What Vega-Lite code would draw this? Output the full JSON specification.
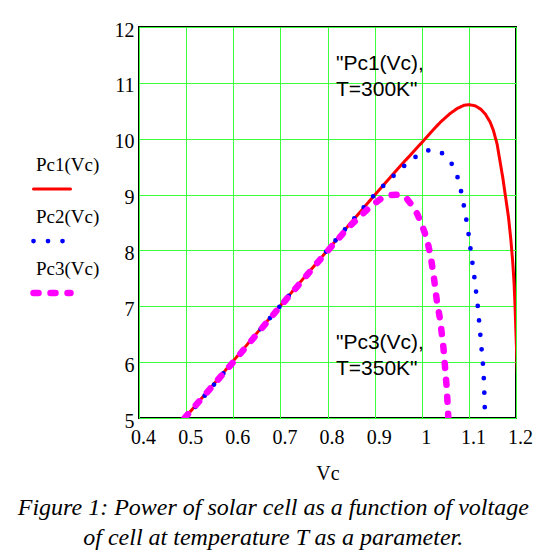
{
  "$schema": "https://vega.github.io/schema/vega-lite/v6.json",
  "background": "white",
  "padding": {"left": 5, "top": 19, "right": 0, "bottom": 0},
  "spacing": 8,
  "title": {
    "text": ["Figure 1: Power of solar cell as a function of voltage", "of cell at temperature T as a parameter."],
    "orient": "bottom",
    "anchor": "middle",
    "font": "Liberation Serif",
    "fontStyle": "italic",
    "fontWeight": "normal",
    "fontSize": 24,
    "lineHeight": 30,
    "color": "black",
    "offset": 12,
    "dx": 4
  },
  "datasets": {
    "curves": [
      {"series": "Pc1(Vc)", "Vc": 0.497, "Pc": 5.0},
      {"series": "Pc1(Vc)", "Vc": 0.55, "Pc": 5.52},
      {"series": "Pc1(Vc)", "Vc": 0.6, "Pc": 6.02},
      {"series": "Pc1(Vc)", "Vc": 0.65, "Pc": 6.52},
      {"series": "Pc1(Vc)", "Vc": 0.7, "Pc": 7.01},
      {"series": "Pc1(Vc)", "Vc": 0.75, "Pc": 7.51},
      {"series": "Pc1(Vc)", "Vc": 0.8, "Pc": 8.0},
      {"series": "Pc1(Vc)", "Vc": 0.85, "Pc": 8.5},
      {"series": "Pc1(Vc)", "Vc": 0.9, "Pc": 8.99},
      {"series": "Pc1(Vc)", "Vc": 0.95, "Pc": 9.47},
      {"series": "Pc1(Vc)", "Vc": 1.0, "Pc": 9.93},
      {"series": "Pc1(Vc)", "Vc": 1.02, "Pc": 10.12},
      {"series": "Pc1(Vc)", "Vc": 1.04, "Pc": 10.3},
      {"series": "Pc1(Vc)", "Vc": 1.06, "Pc": 10.45},
      {"series": "Pc1(Vc)", "Vc": 1.075, "Pc": 10.54},
      {"series": "Pc1(Vc)", "Vc": 1.09, "Pc": 10.6},
      {"series": "Pc1(Vc)", "Vc": 1.1, "Pc": 10.61},
      {"series": "Pc1(Vc)", "Vc": 1.113, "Pc": 10.59},
      {"series": "Pc1(Vc)", "Vc": 1.125, "Pc": 10.53},
      {"series": "Pc1(Vc)", "Vc": 1.135, "Pc": 10.44},
      {"series": "Pc1(Vc)", "Vc": 1.145, "Pc": 10.3},
      {"series": "Pc1(Vc)", "Vc": 1.152, "Pc": 10.15},
      {"series": "Pc1(Vc)", "Vc": 1.16, "Pc": 9.9},
      {"series": "Pc1(Vc)", "Vc": 1.166, "Pc": 9.6},
      {"series": "Pc1(Vc)", "Vc": 1.172, "Pc": 9.3},
      {"series": "Pc1(Vc)", "Vc": 1.178, "Pc": 8.95},
      {"series": "Pc1(Vc)", "Vc": 1.184, "Pc": 8.6},
      {"series": "Pc1(Vc)", "Vc": 1.189, "Pc": 8.2},
      {"series": "Pc1(Vc)", "Vc": 1.193, "Pc": 7.8},
      {"series": "Pc1(Vc)", "Vc": 1.196, "Pc": 7.4},
      {"series": "Pc1(Vc)", "Vc": 1.198, "Pc": 7.0},
      {"series": "Pc1(Vc)", "Vc": 1.2, "Pc": 6.5},
      {"series": "Pc1(Vc)", "Vc": 1.203, "Pc": 5.8},
      {"series": "Pc2(Vc)", "Vc": 0.5, "Pc": 5.0},
      {"series": "Pc2(Vc)", "Vc": 0.6, "Pc": 6.01},
      {"series": "Pc2(Vc)", "Vc": 0.7, "Pc": 7.01},
      {"series": "Pc2(Vc)", "Vc": 0.8, "Pc": 8.01},
      {"series": "Pc2(Vc)", "Vc": 0.9, "Pc": 9.0},
      {"series": "Pc2(Vc)", "Vc": 0.92, "Pc": 9.17},
      {"series": "Pc2(Vc)", "Vc": 0.935, "Pc": 9.29},
      {"series": "Pc2(Vc)", "Vc": 0.951, "Pc": 9.43},
      {"series": "Pc2(Vc)", "Vc": 0.971, "Pc": 9.57},
      {"series": "Pc2(Vc)", "Vc": 0.992, "Pc": 9.71},
      {"series": "Pc2(Vc)", "Vc": 1.005, "Pc": 9.77},
      {"series": "Pc2(Vc)", "Vc": 1.018, "Pc": 9.8},
      {"series": "Pc2(Vc)", "Vc": 1.03, "Pc": 9.79},
      {"series": "Pc2(Vc)", "Vc": 1.04, "Pc": 9.76},
      {"series": "Pc2(Vc)", "Vc": 1.052, "Pc": 9.68},
      {"series": "Pc2(Vc)", "Vc": 1.063, "Pc": 9.56},
      {"series": "Pc2(Vc)", "Vc": 1.076, "Pc": 9.31},
      {"series": "Pc2(Vc)", "Vc": 1.084, "Pc": 9.04},
      {"series": "Pc2(Vc)", "Vc": 1.09, "Pc": 8.77},
      {"series": "Pc2(Vc)", "Vc": 1.096, "Pc": 8.48},
      {"series": "Pc2(Vc)", "Vc": 1.101, "Pc": 8.2},
      {"series": "Pc2(Vc)", "Vc": 1.105, "Pc": 7.92},
      {"series": "Pc2(Vc)", "Vc": 1.11, "Pc": 7.64},
      {"series": "Pc2(Vc)", "Vc": 1.114, "Pc": 7.35},
      {"series": "Pc2(Vc)", "Vc": 1.118, "Pc": 7.08},
      {"series": "Pc2(Vc)", "Vc": 1.121, "Pc": 6.8},
      {"series": "Pc2(Vc)", "Vc": 1.124, "Pc": 6.52},
      {"series": "Pc2(Vc)", "Vc": 1.127, "Pc": 6.23},
      {"series": "Pc2(Vc)", "Vc": 1.13, "Pc": 5.95},
      {"series": "Pc2(Vc)", "Vc": 1.132, "Pc": 5.66},
      {"series": "Pc2(Vc)", "Vc": 1.133, "Pc": 5.39},
      {"series": "Pc2(Vc)", "Vc": 1.134, "Pc": 5.1},
      {"series": "Pc2(Vc)", "Vc": 1.135, "Pc": 4.9},
      {"series": "Pc3(Vc)", "Vc": 0.497, "Pc": 5.0},
      {"series": "Pc3(Vc)", "Vc": 0.6, "Pc": 6.0},
      {"series": "Pc3(Vc)", "Vc": 0.7, "Pc": 7.0},
      {"series": "Pc3(Vc)", "Vc": 0.8, "Pc": 7.99},
      {"series": "Pc3(Vc)", "Vc": 0.844, "Pc": 8.41},
      {"series": "Pc3(Vc)", "Vc": 0.868, "Pc": 8.6},
      {"series": "Pc3(Vc)", "Vc": 0.893, "Pc": 8.8},
      {"series": "Pc3(Vc)", "Vc": 0.914, "Pc": 8.93},
      {"series": "Pc3(Vc)", "Vc": 0.935, "Pc": 8.99},
      {"series": "Pc3(Vc)", "Vc": 0.953, "Pc": 9.0},
      {"series": "Pc3(Vc)", "Vc": 0.968, "Pc": 8.93},
      {"series": "Pc3(Vc)", "Vc": 0.981, "Pc": 8.79},
      {"series": "Pc3(Vc)", "Vc": 0.99, "Pc": 8.66},
      {"series": "Pc3(Vc)", "Vc": 0.999, "Pc": 8.49},
      {"series": "Pc3(Vc)", "Vc": 1.007, "Pc": 8.3},
      {"series": "Pc3(Vc)", "Vc": 1.013, "Pc": 8.13},
      {"series": "Pc3(Vc)", "Vc": 1.02, "Pc": 7.84},
      {"series": "Pc3(Vc)", "Vc": 1.026, "Pc": 7.5},
      {"series": "Pc3(Vc)", "Vc": 1.032, "Pc": 7.1},
      {"series": "Pc3(Vc)", "Vc": 1.039, "Pc": 6.76},
      {"series": "Pc3(Vc)", "Vc": 1.046, "Pc": 6.26},
      {"series": "Pc3(Vc)", "Vc": 1.053, "Pc": 5.54},
      {"series": "Pc3(Vc)", "Vc": 1.056, "Pc": 5.07},
      {"series": "Pc3(Vc)", "Vc": 1.057, "Pc": 4.9}
    ],
    "notes": [
      {"note": "\"Pc1(Vc),\nT=300K\"", "Vc": 0.818, "Pc": 11.225},
      {"note": "\"Pc3(Vc),\nT=350K\"", "Vc": 0.818, "Pc": 6.23}
    ]
  },
  "hconcat": [
    {
      "width": 100,
      "height": 391,
      "view": {"stroke": null},
      "data": {"name": "curves"},
      "transform": [{"aggregate": [{"op": "count", "as": "n"}], "groupby": ["series"]}],
      "encoding": {
        "y": {"field": "series", "type": "nominal", "scale": {"type": "point", "padding": 0, "domain": ["Pc1(Vc)", "Pc2(Vc)", "Pc3(Vc)"], "range": [162, 266]}, "axis": null}
      },
      "layer": [
        {
          "mark": {"type": "rule", "strokeCap": "round"},
          "encoding": {
            "x": {"datum": 28.5, "type": "quantitative", "scale": {"domain": [0, 100]}, "axis": null},
            "x2": {"datum": 65.5},
            "color": {"field": "series", "type": "nominal", "scale": {"domain": ["Pc1(Vc)", "Pc2(Vc)", "Pc3(Vc)"], "range": ["#ff0000", "#0000ff", "#ff00ff"]}, "legend": null},
            "strokeDash": {"field": "series", "type": "nominal", "scale": {"domain": ["Pc1(Vc)", "Pc2(Vc)", "Pc3(Vc)"], "range": [[1, 0], [0, 14.5], [5, 12]]}, "legend": null},
            "strokeWidth": {"field": "series", "type": "nominal", "scale": {"domain": ["Pc1(Vc)", "Pc2(Vc)", "Pc3(Vc)"], "range": [3, 6.5, 5]}, "legend": null}
          }
        },
        {
          "mark": {"type": "text", "align": "left", "baseline": "alphabetic", "yOffset": -18, "font": "Liberation Serif", "fontSize": 19, "color": "black"},
          "encoding": {
            "x": {"datum": 31, "type": "quantitative", "scale": {"domain": [0, 100]}, "axis": null},
            "text": {"field": "series"}
          }
        }
      ]
    },
    {
      "width": 377,
      "height": 391,
      "view": {"stroke": "black", "strokeWidth": 2},
      "layer": [
        {
          "data": {"name": "curves"},
          "mark": {"type": "line", "strokeCap": "round", "strokeJoin": "round", "clip": true},
          "encoding": {
            "x": {
              "field": "Vc", "type": "quantitative",
              "scale": {"domain": [0.4, 1.2], "nice": false, "zero": false},
              "axis": {
                "title": "Vc",
                "values": [0.4, 0.5, 0.6, 0.7, 0.8, 0.9, 1, 1.1, 1.2],
                "format": "~g",
                "ticks": false, "domain": false,
                "grid": true, "gridColor": "#3cff3c", "gridWidth": 1, "gridOpacity": 1,
                "labelFont": "Liberation Serif", "labelFontSize": 20, "labelColor": "black",
                "labelBaseline": "alphabetic", "labelPadding": 25, "labelOffset": 4,
                "labelFlush": false, "labelOverlap": false,
                "titleFont": "Liberation Serif", "titleFontSize": 20, "titleFontWeight": "normal", "titleColor": "black",
                "titlePadding": 16
              }
            },
            "y": {
              "field": "Pc", "type": "quantitative",
              "scale": {"domain": [5, 12], "nice": false, "zero": false},
              "axis": {
                "title": null,
                "values": [5, 6, 7, 8, 9, 10, 11, 12],
                "format": "d",
                "ticks": false, "domain": false,
                "grid": true, "gridColor": "#3cff3c", "gridWidth": 1, "gridOpacity": 1,
                "labelFont": "Liberation Serif", "labelFontSize": 20, "labelColor": "black",
                "labelBaseline": "middle", "labelPadding": 5, "labelOffset": 3,
                "labelFlush": false, "labelOverlap": false
              }
            },
            "color": {"field": "series", "type": "nominal", "scale": {"domain": ["Pc1(Vc)", "Pc2(Vc)", "Pc3(Vc)"], "range": ["#ff0000", "#0000ff", "#ff00ff"]}, "legend": null},
            "strokeDash": {"field": "series", "type": "nominal", "scale": {"domain": ["Pc1(Vc)", "Pc2(Vc)", "Pc3(Vc)"], "range": [[1, 0], [0, 14.5], [5, 11]]}, "legend": null},
            "strokeWidth": {"field": "series", "type": "nominal", "scale": {"domain": ["Pc1(Vc)", "Pc2(Vc)", "Pc3(Vc)"], "range": [3, 6.5, 5]}, "legend": null}
          }
        },
        {
          "data": {"name": "notes"},
          "mark": {"type": "text", "align": "left", "baseline": "alphabetic", "lineBreak": "\n", "lineHeight": 25.5, "font": "Liberation Sans", "fontSize": 21, "color": "black"},
          "encoding": {
            "x": {"field": "Vc", "type": "quantitative"},
            "y": {"field": "Pc", "type": "quantitative"},
            "text": {"field": "note"}
          }
        }
      ]
    }
  ]
}
